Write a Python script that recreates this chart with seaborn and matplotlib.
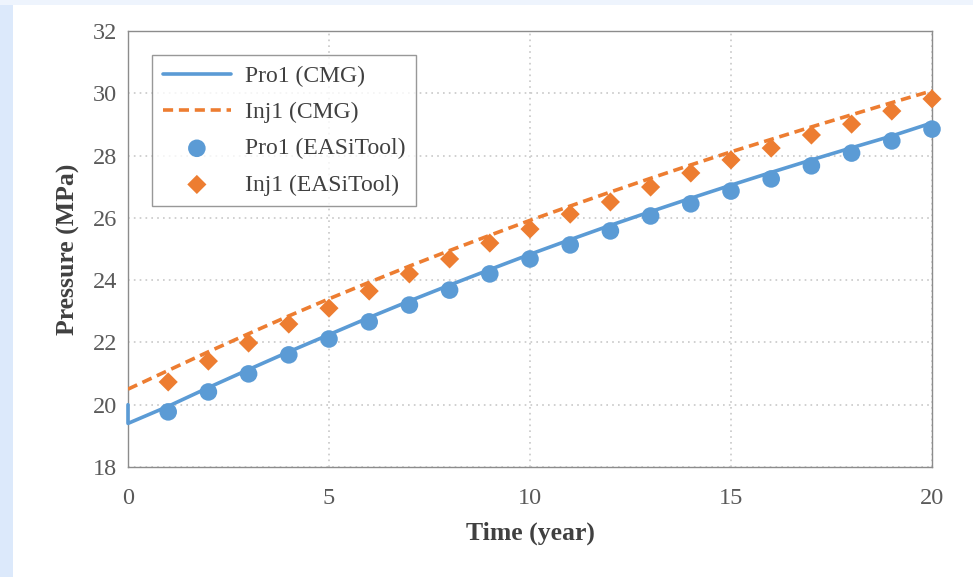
import matplotlib
matplotlib.use("Agg")
import matplotlib.pyplot as plt
import seaborn as sns
import numpy as np
from matplotlib.patches import Rectangle

sns.set_theme(style="white")
plt.rcParams['font.family'] = ['Liberation Serif', 'DejaVu Serif']

# CMG simulation curves (vertical step at t=0 for Pro1)
cmg_pro1_t = [0, 0, 1, 2, 3, 4, 5, 6, 7, 8, 9, 10, 11, 12, 13, 14, 15, 16, 17, 18, 19, 20]
cmg_pro1_p = [20.0, 19.4, 19.95, 20.55, 21.13, 21.7, 22.25, 22.8, 23.33, 23.84, 24.34, 24.83,
              25.3, 25.76, 26.2, 26.63, 27.05, 27.46, 27.86, 28.25, 28.63, 29.05]
cmg_inj1_t = [0, 1, 2, 3, 4, 5, 6, 7, 8, 9, 10, 11, 12, 13, 14, 15, 16, 17, 18, 19, 20]
cmg_inj1_p = [20.5, 21.1, 21.7, 22.28, 22.85, 23.4, 23.93, 24.45, 24.95, 25.44, 25.92, 26.38,
              26.83, 27.27, 27.7, 28.12, 28.52, 28.92, 29.31, 29.7, 30.08]

# EASiTool results
easi_t = [1, 2, 3, 4, 5, 6, 7, 8, 9, 10, 11, 12, 13, 14, 15, 16, 17, 18, 19, 20]
easi_pro1 = [19.77, 20.41, 20.99, 21.6, 22.11, 22.66, 23.2, 23.68, 24.2, 24.68, 25.13, 25.58,
             26.06, 26.45, 26.86, 27.25, 27.67, 28.08, 28.47, 28.85]
easi_inj1 = [20.73, 21.4, 21.98, 22.59, 23.1, 23.65, 24.2, 24.68, 25.19, 25.64, 26.12, 26.51,
             26.99, 27.44, 27.86, 28.24, 28.66, 29.01, 29.43, 29.82]

labels = ["Pro1 (CMG)", "Inj1 (CMG)", "Pro1 (EASiTool)", "Inj1 (EASiTool)"]
x_ticks = [0, 5, 10, 15, 20]
y_ticks = [18, 20, 22, 24, 26, 28, 30, 32]

blue = "#5B9BD5"
orange = "#ED7D31"

fig = plt.figure(figsize=(9.73, 5.77), dpi=100)
fig.patch.set_facecolor("white")
# light blue frame strips of the slide background
fig.patches.append(Rectangle((0, 0), 13/973, 1, transform=fig.transFigure,
                             facecolor="#dce9fb", edgecolor="none", zorder=-10))
fig.patches.append(Rectangle((0, 1 - 5/577), 1, 5/577, transform=fig.transFigure,
                             facecolor="#eef4fd", edgecolor="none", zorder=-10))

ax = fig.add_axes([128/973, 1 - 467/577, (932-128)/973, (467-31)/577])

sns.lineplot(x=cmg_pro1_t, y=cmg_pro1_p, estimator=None, sort=False, ax=ax,
             color=blue, linewidth=2.6, label=labels[0], zorder=5)
sns.lineplot(x=cmg_inj1_t, y=cmg_inj1_p, estimator=None, sort=False, ax=ax,
             color=orange, linewidth=2.6, label=labels[1], zorder=5)
ax.lines[0].set_clip_on(False)
ax.lines[1].set_dashes([2.8, 1.6])
sns.scatterplot(x=easi_t, y=easi_pro1, ax=ax, color=blue, marker="o", s=160,
                edgecolor="none", label=labels[2], zorder=4, clip_on=False)
sns.scatterplot(x=easi_t, y=easi_inj1, ax=ax, color=orange, marker="D", s=95,
                edgecolor="none", label=labels[3], zorder=4, clip_on=False)

ax.set_xlim(0, 20)
ax.set_ylim(18, 32)
ax.set_xticks(x_ticks)
ax.set_yticks(y_ticks)
ax.grid(True, linestyle=(0, (1, 2.5)), color="#c8c8c8", linewidth=1.2)
ax.set_axisbelow(True)
for s in ax.spines.values():
    s.set_color("#8c8c8c")
    s.set_linewidth(1.0)
    s.set_visible(True)
    s.set_zorder(2)
ax.tick_params(axis="both", length=0, labelsize=17.5, colors="#595959")
ax.tick_params(axis="x", pad=15)
ax.tick_params(axis="y", pad=8)
ax.set_xlabel("Time (year)", fontsize=18.5, fontweight="bold", color="#404040", labelpad=9)
ax.set_ylabel("Pressure (MPa)", fontsize=18.5, fontweight="bold", color="#404040", labelpad=9)

leg = ax.legend(loc="upper left", bbox_to_anchor=((152-128)/804, 1 - (55-31)/436),
                fontsize=17, frameon=True, fancybox=False, edgecolor="#7f7f7f",
                handlelength=2.9, handletextpad=0.6, borderpad=0.45, labelspacing=0.62,
                borderaxespad=0)
leg.get_frame().set_linewidth(1.0)
for t in leg.get_texts():
    t.set_color("#404040")

fig.savefig("out.png", dpi=100, facecolor=fig.get_facecolor())
